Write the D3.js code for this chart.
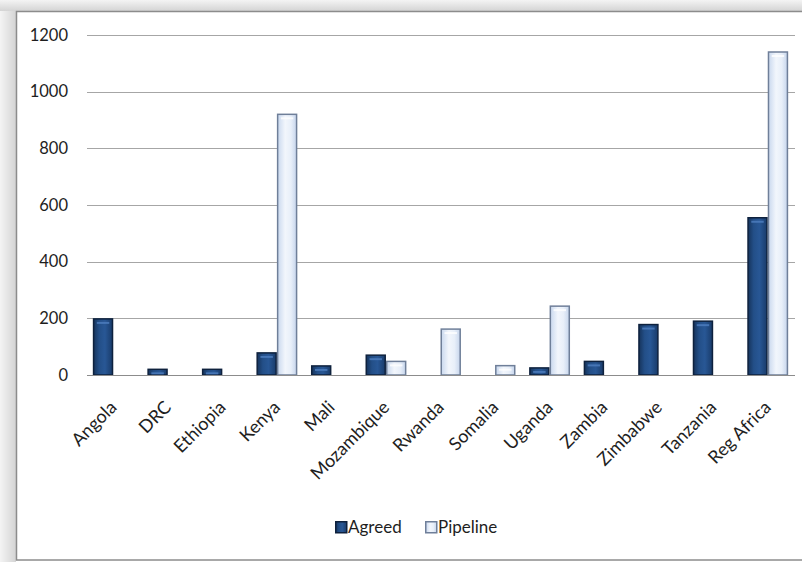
<!DOCTYPE html>
<html>
<head>
<meta charset="utf-8">
<script src="https://cdn.jsdelivr.net/npm/d3@7"></script>
<style>
  html, body { margin: 0; padding: 0; background: #fff; }
  svg { display: block; }
  text { font-family: Lato, "Open Sans", sans-serif; fill: #1e1e1e; }
</style>
</head>
<body>
<svg id="chart" width="802" height="562"></svg>
<script>
// Commitments by country, two series
const categories = ["Angola", "DRC", "Ethiopia", "Kenya", "Mali", "Mozambique", "Rwanda",
                    "Somalia", "Uganda", "Zambia", "Zimbabwe", "Tanzania", "Reg Africa"];
const agreed   = [198, 20, 20, 78, 32, 70, 0, 0, 25, 48, 178, 190, 555];
const pipeline = [0, 0, 0, 920, 0, 48, 162, 33, 243, 0, 0, 0, 1140];
const seriesNames = ["Agreed", "Pipeline"];
const yTicks = [0, 200, 400, 600, 800, 1000, 1200];

const svg = d3.select("#chart");
const W = 802, H = 562;

const defs = svg.append("defs");

// frame shadow on the left and top
const shadeL = defs.append("linearGradient").attr("id", "shadeL").attr("x1", 0).attr("x2", 1).attr("y1", 0).attr("y2", 0);
shadeL.append("stop").attr("offset", 0).attr("stop-color", "#f4f4f4");
shadeL.append("stop").attr("offset", 1).attr("stop-color", "#d4d4d4");
const shadeT = defs.append("linearGradient").attr("id", "shadeT").attr("x1", 0).attr("x2", 0).attr("y1", 0).attr("y2", 1);
shadeT.append("stop").attr("offset", 0).attr("stop-color", "#f4f4f4");
shadeT.append("stop").attr("offset", 1).attr("stop-color", "#d4d4d4");

// bar fills
const gA = defs.append("linearGradient").attr("id", "gA").attr("x1", 0).attr("x2", 1).attr("y1", 0).attr("y2", 0);
[["0", "#16345c"], ["0.3", "#234f88"], ["0.6", "#285795"], ["1", "#193b6a"]].forEach(([o, c]) =>
  gA.append("stop").attr("offset", o).attr("stop-color", c));
const gP = defs.append("linearGradient").attr("id", "gP").attr("x1", 0).attr("x2", 1).attr("y1", 0).attr("y2", 0);
[["0", "#c9d8ee"], ["0.4", "#f2f6fc"], ["0.7", "#e8eff9"], ["1", "#c6d5ec"]].forEach(([o, c]) =>
  gP.append("stop").attr("offset", o).attr("stop-color", c));

svg.append("rect").attr("x", 0).attr("y", 0).attr("width", 16).attr("height", H).attr("fill", "url(#shadeL)");
svg.append("rect").attr("x", 0).attr("y", 0).attr("width", W).attr("height", 11).attr("fill", "url(#shadeT)");
svg.append("rect").attr("x", 16.5).attr("y", 11.5).attr("width", W).attr("height", 548.5)
  .attr("fill", "#fff").attr("stroke", "#8c8c8c").attr("stroke-width", 1.5);

const plot = { left: 86, right: 795, top: 35, bottom: 375 };

const x = d3.scaleBand().domain(categories).range([plot.left, plot.right]).paddingInner(0.25).paddingOuter(0.125);
const xs = d3.scaleBand().domain(seriesNames).range([0, x.bandwidth()]);
const y = d3.scaleLinear().domain([0, 1200]).range([plot.bottom, plot.top]);

// gridlines
svg.append("g").selectAll("line").data(yTicks.filter(d => d > 0)).join("line")
  .attr("x1", plot.left + 1).attr("x2", plot.right)
  .attr("y1", d => Math.round(y(d)) + 0.5).attr("y2", d => Math.round(y(d)) + 0.5)
  .attr("stroke", "#a6a6a6").attr("stroke-width", 1);

// y axis labels
const yAxis = d3.axisLeft(y).tickValues(yTicks).tickSize(0).tickPadding(0).tickFormat(d3.format("d"));
const gy = svg.append("g").attr("transform", `translate(${68},0)`).call(yAxis);
gy.select(".domain").remove();
gy.selectAll("text").attr("font-size", 16.5).attr("font-family", "Lato, sans-serif").attr("fill", "#1e1e1e");

// bars
const rows = categories.map((c, i) => ({ c, vals: [agreed[i], pipeline[i]] }));
const grp = svg.append("g").selectAll("g").data(rows).join("g")
  .attr("transform", d => `translate(${x(d.c)},0)`);
grp.selectAll("rect").data(d => d.vals.map((v, k) => ({ v, k })).filter(e => e.v > 0)).join("rect")
  .attr("x", e => xs(seriesNames[e.k]) + 0.75)
  .attr("width", xs.bandwidth() - 1.5)
  .attr("y", e => y(e.v))
  .attr("height", e => y(0) - y(e.v))
  .attr("fill", e => e.k === 0 ? "url(#gA)" : "url(#gP)")
  .attr("stroke", e => e.k === 0 ? "#0e213d" : "#6f7f99")
  .attr("stroke-width", 1.5);
// small highlight at the top of each bar
grp.selectAll("line.hl").data(d => d.vals.map((v, k) => ({ v, k })).filter(e => e.v > 0)).join("line")
  .attr("class", "hl")
  .attr("x1", e => xs(seriesNames[e.k]) + 4)
  .attr("x2", e => xs(seriesNames[e.k]) + xs.bandwidth() - 4)
  .attr("y1", e => y(e.v) + 4).attr("y2", e => y(e.v) + 4)
  .attr("stroke", e => e.k === 0 ? "#4f7fc0" : "#ffffff")
  .attr("stroke-width", 2).attr("opacity", 0.8);

// baseline
svg.append("line").attr("x1", plot.left + 1).attr("x2", plot.right)
  .attr("y1", y(0) + 0.5).attr("y2", y(0) + 0.5).attr("stroke", "#8c8c8c").attr("stroke-width", 1.2);

// category labels
const xAxis = d3.axisBottom(x).tickSize(0).tickPadding(0);
const gx = svg.append("g").attr("transform", `translate(0,${plot.bottom})`).call(xAxis);
gx.select(".domain").remove();
gx.selectAll("text")
  .attr("font-size", 18).attr("font-family", "Lato, sans-serif").attr("fill", "#1e1e1e")
  .attr("text-anchor", "end").attr("dy", "0.35em")
  .attr("transform", "translate(0,29) rotate(-45)");

// legend
const legend = svg.append("g").attr("transform", "translate(335,521)");
const items = [{ n: seriesNames[0], x: 0 }, { n: seriesNames[1], x: 90 }];
items.forEach((it, k) => {
  legend.append("rect").attr("x", it.x + 0.75).attr("y", 0.75).attr("width", 11).attr("height", 11)
    .attr("fill", k === 0 ? "url(#gA)" : "url(#gP)")
    .attr("stroke", k === 0 ? "#0e213d" : "#6f7f99").attr("stroke-width", 1.5);
  legend.append("text").attr("x", it.x + 13).attr("y", 6).attr("dy", "0.35em")
    .attr("font-size", 17).text(it.n);
});
</script>
</body>
</html>
